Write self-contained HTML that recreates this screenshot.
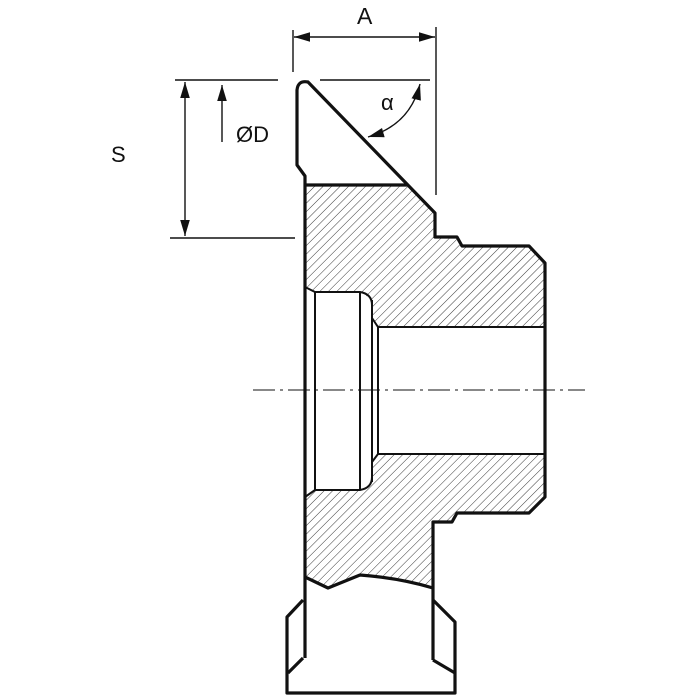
<!DOCTYPE html>
<html><head><style>html,body{margin:0;padding:0;background:#fff}svg{display:block}</style></head>
<body>
<svg width="700" height="700" viewBox="0 0 700 700" xmlns="http://www.w3.org/2000/svg">
<defs>
<pattern id="h" patternUnits="userSpaceOnUse" width="6" height="6" patternTransform="rotate(45)">
<line x1="0" y1="0" x2="0" y2="6" stroke="#222" stroke-width="0.9"/>
</pattern>
<marker id="ar" viewBox="0 0 10 10" refX="10" refY="5" markerWidth="16" markerHeight="16" markerUnits="userSpaceOnUse" orient="auto-start-reverse">
<path d="M0,2 L10,5 L0,8 Z" fill="#111"/>
</marker>
</defs>
<g font-family="Liberation Sans, sans-serif" fill="#111">
<text x="357" y="24" font-size="23">A</text>
<text x="111" y="162" font-size="22">S</text>
<text x="236" y="142" font-size="22">ØD</text>
<text x="381" y="110" font-size="22">α</text>
</g>
<g stroke="#111" stroke-width="1.4" fill="none">
<line x1="293" y1="30" x2="293" y2="72"/>
<line x1="436" y1="27" x2="436" y2="195"/>
<line x1="294" y1="37" x2="435" y2="37" marker-start="url(#ar)" marker-end="url(#ar)"/>
<line x1="175" y1="80" x2="278" y2="80"/>
<line x1="320" y1="80" x2="430" y2="80"/>
<line x1="170" y1="238" x2="295" y2="238"/>
<line x1="185" y1="82" x2="185" y2="236" marker-start="url(#ar)" marker-end="url(#ar)"/>
<line x1="222" y1="142" x2="222" y2="85" marker-end="url(#ar)"/>
<path d="M420,84 Q410,125 368,137" marker-start="url(#ar)" marker-end="url(#ar)"/>
<line x1="253" y1="390" x2="585" y2="390" stroke-width="1" stroke-dasharray="22,5,3,5"/>
</g>
<g fill="url(#h)" stroke="none">
<path d="M305,185 L407,185 L435,213 L435,237 L457,237 L462,246 L529,246 L545,263 L545,327 L378,327 L372,318 L372,300 L360,292 L315,292 L305,287 Z"/>
<path d="M305,497 L315,490 L360,490 L372,482 L372,462 L378,454 L545,454 L545,497 L529,513 L457,513 L452,522 L433,522 L433,588 Q400,578 360,575 L328,588 L305,577 Z"/>
</g>
<g stroke="#111" stroke-width="3.2" fill="none" stroke-linejoin="round">
<path d="M305,658 L305,176 L297,165 L297,90 Q298,80 308,82 L435,213 L435,237 L457,237 L462,246 L529,246 L545,263 L545,497 L529,513 L457,513 L452,522 L433,522 L433,660"/>
<line x1="305" y1="185" x2="407" y2="185"/>
<path d="M305,577 L328,588 L360,575 Q400,578 433,588"/>
<path d="M303,600 L287,617 L287,693 L455,693 L455,622 L433,600"/>
<path d="M303,658 L288,673"/>
<path d="M433,660 L455,673"/>
</g>
<g stroke="#111" stroke-width="2" fill="none">
<path d="M305,287 L315,292 L360,292 Q372,294 372,305 L372,318 L378,327 L545,327"/>
<path d="M305,497 L315,490 L360,490 Q372,488 372,477 L372,462 L378,454 L545,454"/>
<line x1="315" y1="292" x2="315" y2="490"/>
<line x1="360" y1="292" x2="360" y2="490"/>
<line x1="372" y1="300" x2="372" y2="482"/>
<line x1="378" y1="327" x2="378" y2="454"/>
</g>
</svg>
</body></html>
